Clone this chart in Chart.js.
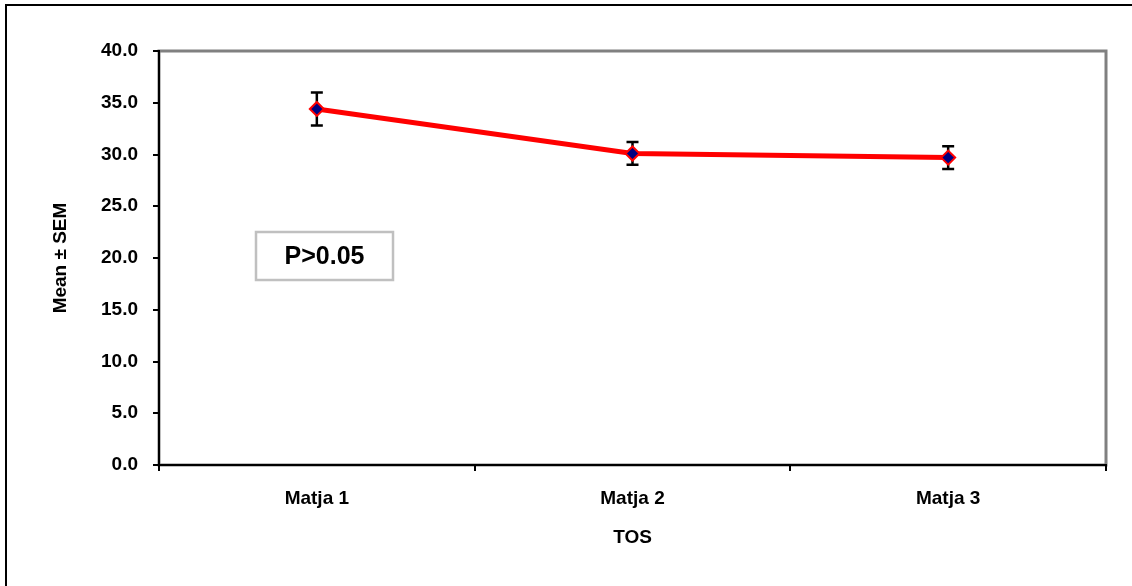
<!DOCTYPE html>
<html lang="en">
<head>
  <meta charset="UTF-8" />
  <title>Mean ± SEM by TOS</title>
  <script src="https://cdn.jsdelivr.net/npm/chart.js"></script>
  <style>
    body { margin: 0; background: #fff; }
    #wrap { width: 1132px; height: 586px; }
  </style>
</head>
<body>
  <div id="wrap"><canvas id="tosChart" width="1132" height="586"></canvas></div>

  <script>
    const categories = ['Matja 1', 'Matja 2', 'Matja 3'];
    const means = [34.4, 30.1, 29.7];
    const sem = [1.6, 1.1, 1.1];
    const yTicks = [0, 5, 10, 15, 20, 25, 30, 35, 40];

    const FONT = '"Liberation Sans", Arial, sans-serif';

    // gray plot border, outer frame and the P-value box
    const decorations = {
      id: 'decorations',
      beforeDraw(chart) {
        const { ctx, chartArea: a } = chart;
        ctx.save();
        ctx.fillStyle = '#fff';
        ctx.fillRect(0, 0, chart.width, chart.height);
        ctx.strokeStyle = '#000';
        ctx.lineWidth = 2;
        ctx.beginPath();
        ctx.moveTo(6, chart.height);
        ctx.lineTo(6, 5);
        ctx.lineTo(chart.width, 5);
        ctx.stroke();
        ctx.strokeStyle = '#808080';
        ctx.lineWidth = 3;
        ctx.strokeRect(a.left, a.top, a.right - a.left, a.bottom - a.top);
        ctx.restore();
      },
      beforeDatasetsDraw(chart) {
        // error bars
        const { ctx, scales } = chart;
        ctx.save();
        ctx.strokeStyle = '#000';
        ctx.lineWidth = 2.5;
        means.forEach((m, i) => {
          const x = scales.x.getPixelForValue(i);
          const yHi = scales.y.getPixelForValue(m + sem[i]);
          const yLo = scales.y.getPixelForValue(m - sem[i]);
          ctx.beginPath();
          ctx.moveTo(x, yHi); ctx.lineTo(x, yLo);
          ctx.moveTo(x - 6, yHi); ctx.lineTo(x + 6, yHi);
          ctx.moveTo(x - 6, yLo); ctx.lineTo(x + 6, yLo);
          ctx.stroke();
        });
        ctx.restore();
      },
      afterDraw(chart) {
        const { ctx } = chart;
        ctx.save();
        ctx.fillStyle = '#fff';
        ctx.fillRect(256, 232, 137, 48);
        ctx.strokeStyle = '#c0c0c0';
        ctx.lineWidth = 2.5;
        ctx.strokeRect(256, 232, 137, 48);
        ctx.fillStyle = '#000';
        ctx.font = 'bold 25px ' + FONT;
        ctx.textAlign = 'center';
        ctx.textBaseline = 'middle';
        ctx.fillText('P>0.05', 324.5, 257);
        ctx.restore();
      }
    };

    new Chart(document.getElementById('tosChart'), {
      type: 'line',
      data: {
        labels: categories,
        datasets: [{
          label: 'Mean',
          data: means,
          borderColor: '#ff0000',
          borderWidth: 5,
          pointStyle: 'rectRot',
          pointRadius: 7,
          pointBorderWidth: 2,
          pointBorderColor: '#ff0000',
          pointBackgroundColor: '#000080',
          tension: 0
        }]
      },
      options: {
        responsive: false,
        animation: false,
        layout: { padding: { top: 51, right: 26, left: 0, bottom: 0 } },
        plugins: {
          legend: { display: false },
          tooltip: { enabled: false }
        },
        scales: {
          x: {
            offset: true,
            afterFit: s => { s.height = 121; },
            grid: { offset: true, drawOnChartArea: false, drawTicks: true, tickLength: 6, color: '#000', lineWidth: 2 },
            border: { display: true, color: '#000', width: 2 },
            ticks: { color: '#000', padding: 16, font: { family: FONT, size: 19, weight: 'bold' } },
            title: {
              display: true, text: 'TOS', color: '#000',
              font: { family: FONT, size: 19, weight: 'bold' },
              padding: { top: 0, bottom: 37 }
            }
          },
          y: {
            min: 0,
            max: 40,
            afterFit: s => { s.width = 159; },
            afterBuildTicks: s => { s.ticks = yTicks.map(v => ({ value: v })); },
            grid: { drawOnChartArea: false, drawTicks: true, tickLength: 6, color: '#000', lineWidth: 2 },
            border: { display: true, color: '#000', width: 2 },
            ticks: {
              color: '#000', padding: 15,
              font: { family: FONT, size: 19, weight: 'bold' },
              callback: v => Number(v).toFixed(1)
            },
            title: {
              display: true, text: 'Mean ± SEM', color: '#000',
              font: { family: FONT, size: 19, weight: 'bold' },
              padding: { top: 49, bottom: 0 }
            }
          }
        }
      },
      plugins: [decorations]
    });
  </script>
</body>
</html>
